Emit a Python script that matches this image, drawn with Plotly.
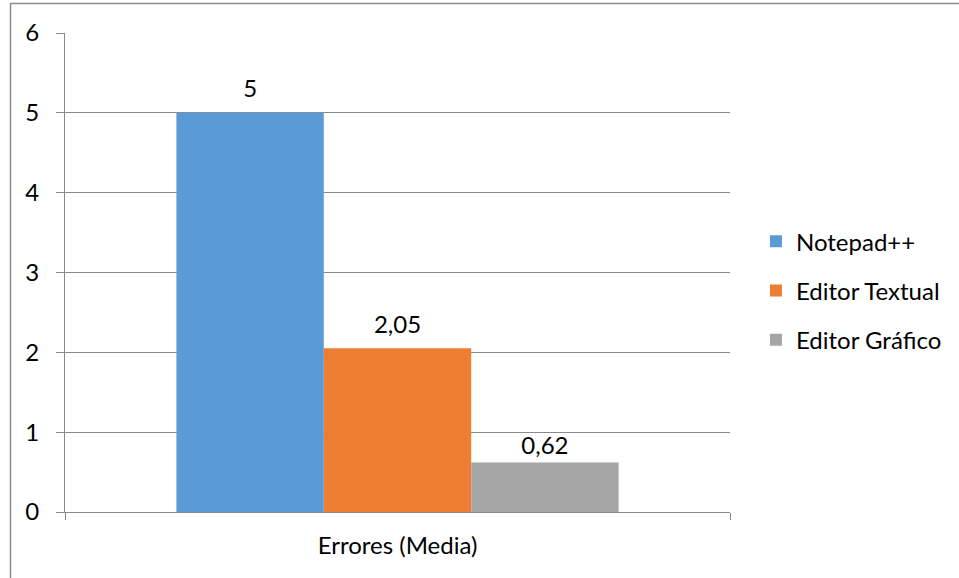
import plotly.graph_objects as go

categories = ["Errores (Media)"]
series_names = ["Notepad++", "Editor Textual", "Editor Gráfico"]
notepad = [5]
editor_textual = [2.05]
editor_grafico = [0.62]
colors = ["#5B9BD5", "#ED7D31", "#A5A5A5"]
label_pad = [14, 14, 2]

FONT = "Lato, Carlito, Open Sans, sans-serif"
GRID = "#8A8A8A"
FS = 24

fig = go.Figure()
all_vals = [notepad, editor_textual, editor_grafico]
for i, (name, vals) in enumerate(zip(series_names, all_vals)):
    fig.add_trace(go.Bar(
        x=categories, y=vals, name=name, marker_color=colors[i],
        marker_line_width=0, legendgroup=str(i),
    ))
for i, (name, vals) in enumerate(zip(series_names, all_vals)):
    fig.add_trace(go.Scatter(
        x=categories, y=vals, mode="markers+text", showlegend=False,
        marker=dict(size=label_pad[i], opacity=0), texttemplate="%{y}",
        textposition="top center", cliponaxis=False, hoverinfo="skip",
        textfont=dict(size=FS, color="#000000", family=FONT),
        legendgroup=str(i),
    ))

fig.update_layout(
    width=959, height=578,
    margin=dict(l=65, r=229, t=33, b=66),
    paper_bgcolor="white", plot_bgcolor="white",
    barmode="group", bargap=0.335, bargroupgap=0,
    scattermode="group", scattergap=0.335,
    separators=",.",
    font=dict(family=FONT, size=FS, color="#000000"),
    legend=dict(x=1.039, y=0.462, xanchor="left", yanchor="middle",
                font=dict(size=FS, family=FONT), tracegroupgap=15,
                itemwidth=30),
    showlegend=True,
)
fig.update_yaxes(
    range=[0, 6], dtick=1, showgrid=True, gridcolor=GRID, gridwidth=1.3,
    showline=True, linecolor=GRID, linewidth=1.3,
    ticks="outside", ticklen=8, tickcolor=GRID, tickwidth=1.3,
    ticklabelstandoff=12, zeroline=False,
    tickfont=dict(size=FS, color="#000000"),
)
fig.update_xaxes(
    showline=True, linecolor=GRID, linewidth=1.3,
    ticks="outside", tickson="boundaries", ticklen=7, tickcolor=GRID, tickwidth=1.3,
    ticklabelstandoff=12,
    tickfont=dict(size=FS, color="#000000"),
)
# chart outer border (visible left and top edges)
ph = 479.0
pw = 665.0
fig.add_shape(type="line", xref="paper", yref="paper",
              x0=(10 - 65) / pw, x1=(970 - 65) / pw, y0=(512 - 3.5) / ph, y1=(512 - 3.5) / ph,
              line=dict(color="#8C8C8C", width=1.5))
fig.add_shape(type="line", xref="paper", yref="paper",
              x0=(10.5 - 65) / pw, x1=(10.5 - 65) / pw, y0=(512 - 3.5) / ph, y1=(512 - 590) / ph,
              line=dict(color="#8C8C8C", width=1.5))

fig.write_html("out.html", config={"displayModeBar": False},
               post_script="document.body.style.margin='0';document.body.style.overflow='hidden';")
